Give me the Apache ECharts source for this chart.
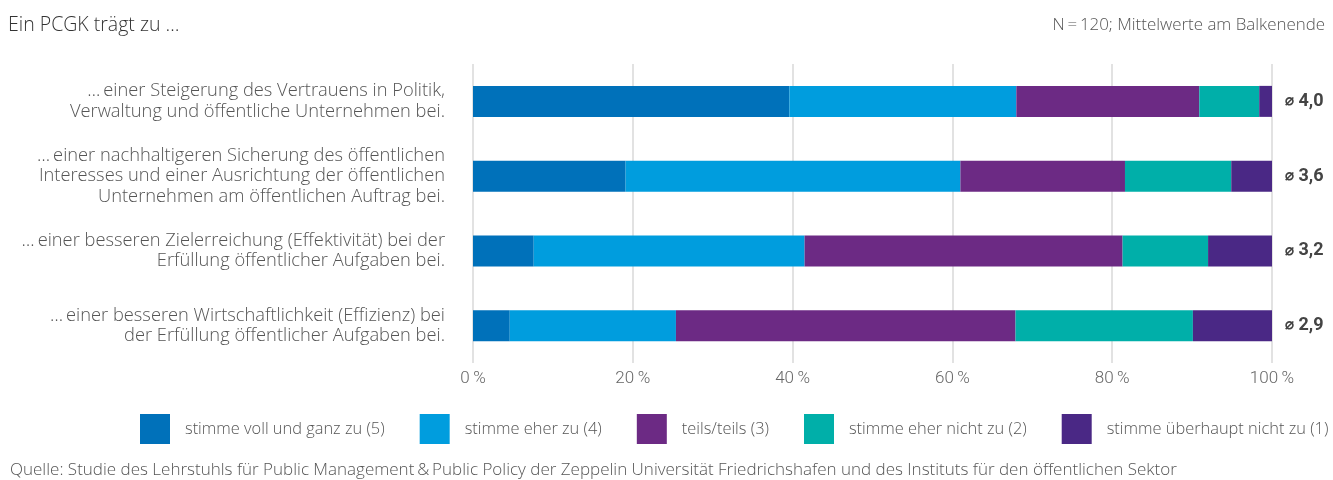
<!DOCTYPE html>
<html>
<head>
<meta charset="utf-8">
<script src="https://cdn.jsdelivr.net/npm/echarts@6/dist/echarts.min.js"></script>
<style>
  html, body { margin: 0; padding: 0; background: #fff; }
  #chart { width: 1333px; height: 480px; }
</style>
</head>
<body>
<div id="chart"></div>
<script>
const categories = [
  '…\u2009einer Steigerung des Vertrauens in Politik,\nVerwaltung und öffentliche Unternehmen bei.',
  '…\u2009einer nachhaltigeren Sicherung des öffentlichen\nInteresses und einer Ausrichtung der öffentlichen\nUnternehmen am öffentlichen Auftrag bei.',
  '…\u2009einer besseren Zielerreichung (Effektivität) bei der\nErfüllung öffentlicher Aufgaben bei.',
  '…\u2009einer besseren Wirtschaftlichkeit (Effizienz) bei\nder Erfüllung öffentlicher Aufgaben bei.'
]
const seriesNames = [
  'stimme voll und ganz zu (5)',
  'stimme eher zu (4)',
  'teils/teils (3)',
  'stimme eher nicht zu (2)',
  'stimme überhaupt nicht zu (1)'
]
const voll = [39.6, 19.1, 7.6, 4.6]
const eher = [28.4, 41.9, 33.9, 20.8]
const teils = [22.9, 20.6, 39.8, 42.5]
const eherNicht = [7.5, 13.3, 10.7, 22.2]
const garNicht = [1.6, 5.1, 8.0, 9.9]
const means = ['4,0', '3,6', '3,2', '2,9']
const colors = ['#0071ba', '#009dde', '#6c2a84', '#00afa9', '#4a2885']

const values = [voll, eher, teils, eherNicht, garNicht]
const font = '"Open Sans", Roboto, sans-serif'
const numFont = 'Roboto, "Open Sans", sans-serif'

const chart = echarts.init(document.getElementById('chart'))
chart.setOption({
  animation: false,
  textStyle: { fontFamily: font },
  title: [
    {
      text: 'Ein PCGK trägt zu …',
      left: 3, top: 10,
      textStyle: { fontSize: 19.5, fontWeight: 300, color: '#333', fontFamily: font }
    },
    {
      text: 'N\u2009=\u2009120; Mittelwerte am Balkenende',
      right: 3, top: 12,
      textStyle: { fontSize: 16.9, fontWeight: 300, color: '#555', fontFamily: font }
    },
    {
      text: 'Quelle: Studie des Lehrstuhls für Public Management\u2009&\u2009Public Policy der Zeppelin Universität Friedrichshafen und des Instituts für den öffentlichen Sektor',
      left: 5, top: 457,
      textStyle: { fontSize: 17, fontWeight: 300, color: '#555', fontFamily: font }
    }
  ],
  grid: { top: 64, bottom: 117, left: 473, right: 61 },
  xAxis: {
    type: 'value',
    min: 0, max: 100, interval: 20,
    axisLine: { show: false },
    axisTick: { show: false },
    splitLine: { lineStyle: { color: '#d9d9d9', width: 1.5 } },
    axisLabel: {
      formatter: v => v + '\u2009%',
      fontSize: 17, fontWeight: 300, color: '#666', margin: 7, fontFamily: numFont
    }
  },
  yAxis: {
    type: 'category',
    inverse: true,
    data: categories,
    axisLine: { show: false },
    axisTick: { show: false },
    axisLabel: {
      fontSize: 18.3, fontWeight: 300, color: '#555', lineHeight: 20.5,
      margin: 28, align: 'right', fontFamily: font
    }
  },
  legend: {
    left: 140, top: 414, right: 0,
    padding: 0,
    itemWidth: 30, itemHeight: 30, itemGap: 35,
    icon: 'rect',
    textStyle: { fontSize: 16.4, fontWeight: 300, color: '#555', padding: [0, 0, 0, 10], fontFamily: font },
    data: seriesNames
  },
  series: seriesNames.map((name, i) => ({
    name,
    type: 'bar',
    stack: 'total',
    barWidth: 31,
    itemStyle: { color: colors[i] },
    data: values[i],
    label: i === seriesNames.length - 1 ? {
      show: true,
      position: 'right',
      distance: 13,
      formatter: p => '{s|⌀} ' + means[p.dataIndex],
      fontSize: 18, fontWeight: 'bold', color: '#444', fontFamily: numFont,
      rich: { s: { fontSize: 15, fontWeight: 'bold', color: '#444', fontFamily: numFont } }
    } : { show: false }
  }))
})
</script>
</body>
</html>
